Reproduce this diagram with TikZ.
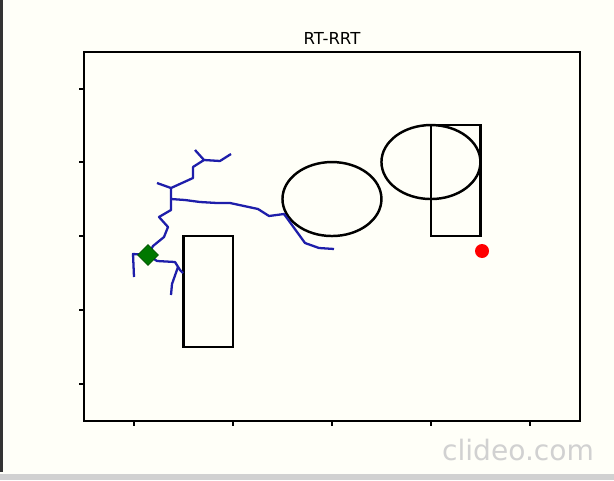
\documentclass[tikz,border=0pt]{standalone}
\usepackage{fontspec}
\setmainfont{DejaVu Sans}
\usetikzlibrary{shapes.geometric}

\definecolor{paper}{RGB}{255,255,248}
\definecolor{treeblue}{RGB}{30,30,170}
\definecolor{startgreen}{RGB}{0,120,0}

\tikzset{
  frame/.style={black, line width=0.6pt},
  obstacle/.style={black, line width=1.4pt},
  tree/.style={treeblue, line width=1.3pt, line join=round},
  tick/.style={black, line width=0.6pt},
}

\begin{document}
\begin{tikzpicture}[x=0.02cm, y=-0.02cm]

% page and screen edges
\fill[paper] (0,0) rectangle (614,480);
\useasboundingbox (0,0) rectangle (614,480);
\fill[black!80] (0,0) rectangle (3,472);
\fill[black!18] (0,474) rectangle (614,480);

\node[font=\fontsize{9.4}{11}\selectfont] (title) at (332,38) {RT-RRT};

% axes
\draw[frame] (84,52) rectangle (580,421);
\foreach \x in {134,233,332,431,530}
  \draw[tick] (\x,421) -- (\x,426);
\foreach \y in {89,162,236,310,384}
  \draw[tick] (84,\y) -- (79,\y);

% obstacles, in data units
\begin{scope}[shift={(134,384)}, x=0.99cm, y=0.74cm]
\draw[obstacle] (1,1) rectangle (2,4);
\draw[obstacle] (6,4) rectangle (7,7);
\draw[obstacle] (4,5) ellipse [x radius=0.99cm, y radius=0.74cm];
\draw[obstacle] (6,6) ellipse [x radius=0.99cm, y radius=0.74cm];
\end{scope}

% tree
\draw[tree] (148,255) -- (153,246) -- (164,237) -- (168,227) -- (159,217)
  -- (171,210) -- (171,199) -- (171,188);
\draw[tree] (171,199) -- (185,200) -- (200,202) -- (217,203) -- (230,203)
  -- (258,209) -- (269,216) -- (284,214) -- (305,243) -- (319,248) -- (334,249);
\draw[tree] (171,188) -- (182,183) -- (193,178) -- (193,167) -- (204,160) -- (195,150);
\draw[tree] (204,160) -- (220,161) -- (231,154);
\draw[tree] (171,188) -- (157,183);
\draw[tree] (148,255) -- (133,254) -- (134,277);
\draw[tree] (148,255) -- (157,261) -- (175,262) -- (180,270) -- (183,273);
\draw[tree] (178,267) -- (172,284) -- (171,295);

% start and goal
\node[diamond, fill=startgreen, draw=startgreen!70!black, line width=0.4pt,
  minimum size=0.42cm, inner sep=0pt] (start) at (148,255) {};
\node[circle, fill=red, minimum size=0.28cm, inner sep=0pt] (goal) at (482,251) {};

% watermark
\node[font=\fontsize{16}{18}\selectfont, text=black!18] (mark) at (518,450) {clideo.com};

\end{tikzpicture}
\end{document}
